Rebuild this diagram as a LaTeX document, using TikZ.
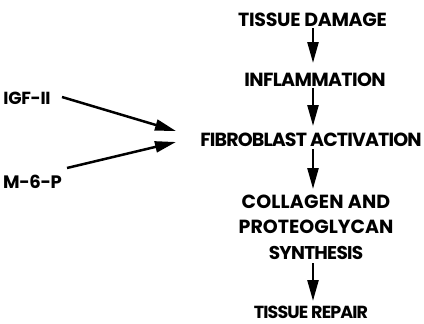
\documentclass[tikz,border=0pt]{standalone}
\usepackage{fontspec}
\setmainfont{Poppins}
\usetikzlibrary{arrows.meta}
\newcommand\ls[3]{{\fontsize{#1}{25.5}\selectfont\addfontfeature{LetterSpace=#2}#3}}
\tikzset{
  lbl/.style={inner sep=0pt, align=center, font=\fontsize{20}{25.5}\selectfont\bfseries},
  flow/.style={line width=2.5pt, -{Triangle[length=21pt,width=11pt]}},
}
\begin{document}
\begin{tikzpicture}[x=1pt,y=-1pt]
\useasboundingbox (0,0) rectangle (424,324);
\node[lbl] (td) at (312.5,19.5) {\ls{19}{-1.5}{TISSUE DAMAGE}};
\node[lbl] (inf) at (315,80) {\ls{19}{-3.4}{INFLAMMATION}};
\node[lbl] (fib) at (311,140) {\ls{19}{-4.5}{FIBROBLAST ACTIVATION}};
\node[lbl] (col) at (316,227) {\ls{19}{1}{COLLAGEN AND}\\\ls{19}{0}{PROTEOGLYCAN}\\\ls{18.5}{-4}{SYNTHESIS}};
\node[lbl] (rep) at (311,312.5) {\ls{17.5}{-5}{TISSUE REPAIR}};
\node[lbl] (igf) at (27,98.5) {\ls{17.5}{-1.5}{IGF-II}};
\node[lbl] (m6p) at (32.5,182) {\ls{18}{-2.2}{M-6-P}};
\coordinate (a1) at (313,28);
\coordinate (b1) at (313,63);
\coordinate (a2) at (313,88);
\coordinate (b2) at (313,126);
\coordinate (a3) at (313,149);
\coordinate (b3) at (313,189);
\coordinate (a4) at (313,263);
\coordinate (b4) at (313,301);
\coordinate (s1) at (62,97);
\coordinate (t1) at (176,131);
\coordinate (s2) at (67,168);
\coordinate (t2) at (176,142);
\draw[flow] (a1) -- (b1);
\draw[flow] (a2) -- (b2);
\draw[flow] (a3) -- (b3);
\draw[flow] (a4) -- (b4);
\draw[flow] (s1) -- (t1);
\draw[flow] (s2) -- (t2);
\end{tikzpicture}
\end{document}
